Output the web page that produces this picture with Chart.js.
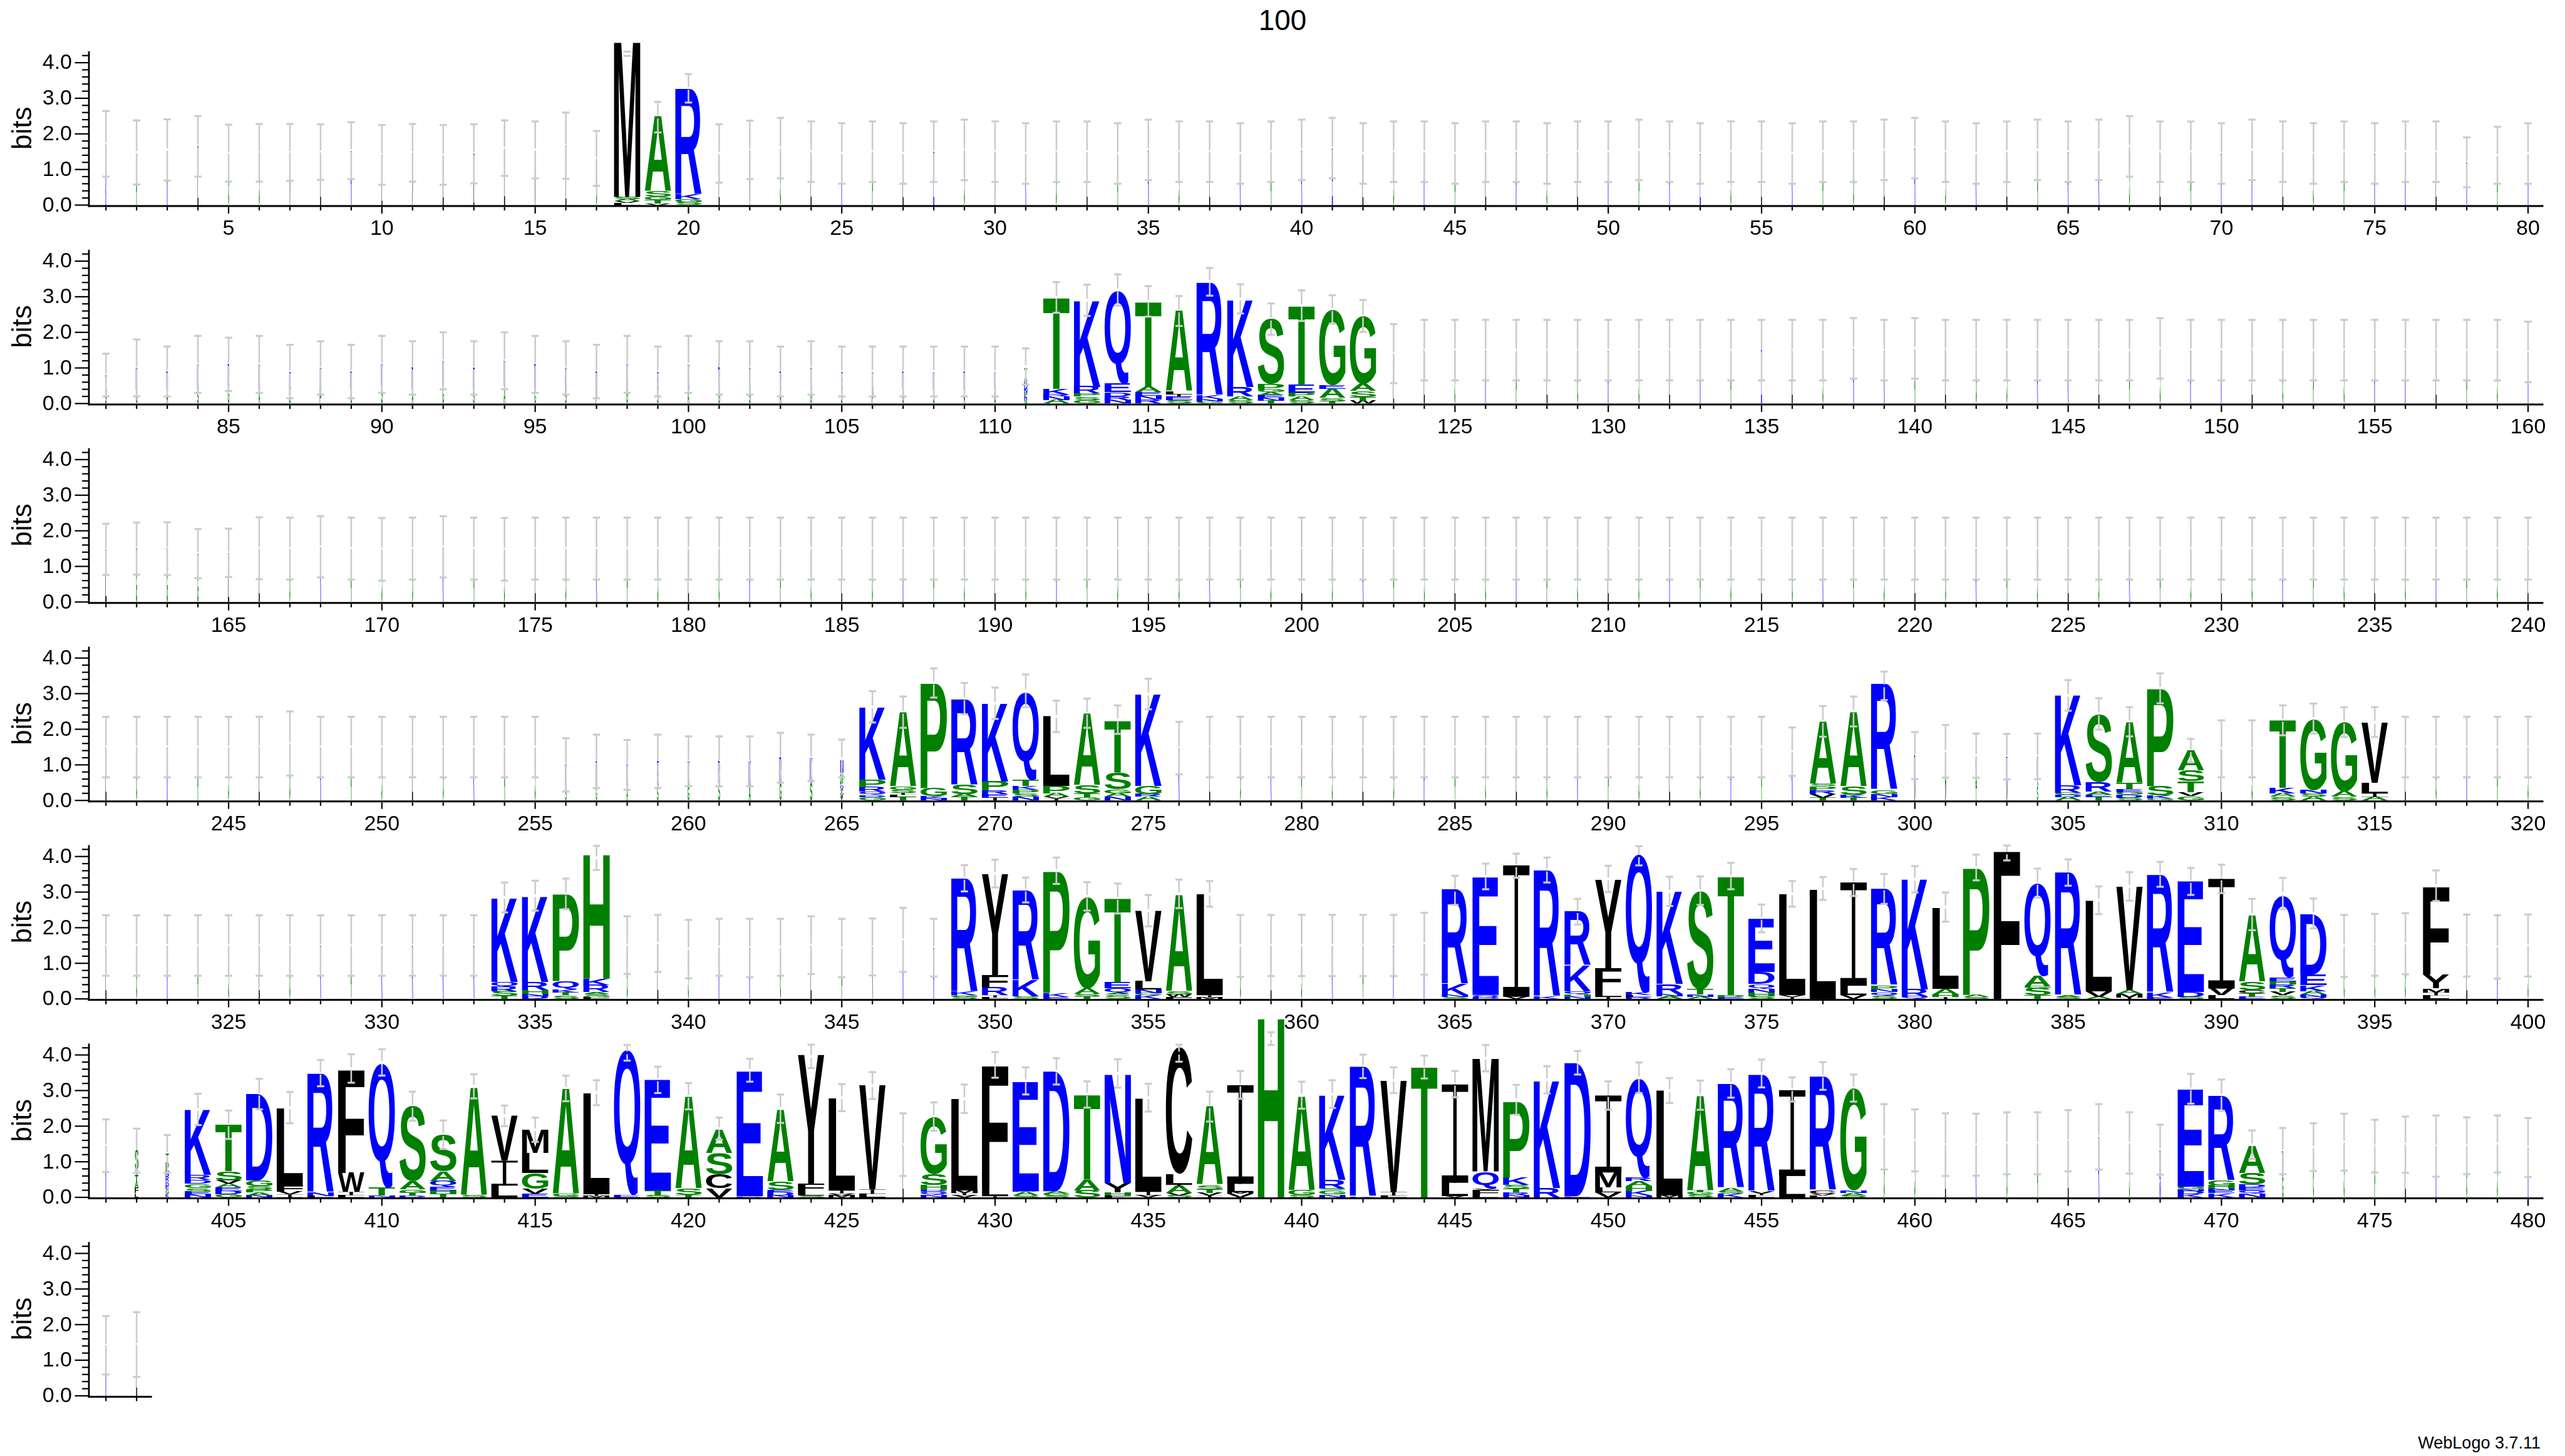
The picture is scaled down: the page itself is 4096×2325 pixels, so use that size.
<!DOCTYPE html>
<html><head><meta charset="utf-8">
<script src="https://cdn.jsdelivr.net/npm/chart.js@4.4.1/dist/chart.umd.min.js"></script>
<style>
html,body{margin:0;padding:0;background:#fff;}
#wrap{position:relative;width:4096px;height:2325px;overflow:hidden;background:#fff;}
#wrap canvas{position:absolute;left:0;}
.txt{position:absolute;font-family:"Liberation Sans",Arial,Helvetica,sans-serif;color:#000;white-space:nowrap;}
</style></head>
<body><div id="wrap">
<div class="txt" id="title" style="left:0;width:4096px;text-align:center;top:9px;font-size:46px;line-height:46px;">100</div>
<div class="txt" id="footer" style="right:39px;top:2291px;font-size:27px;line-height:27px;">WebLogo 3.7.11</div>
</div>
<script>
// ---------------- DATA ----------------
const yTickValues = [0, 1, 2, 3, 4];
const yTickLabels = ["0.0", "1.0", "2.0", "3.0", "4.0"];
const yAxisTitle = "bits";
const rowFirstPositions = [1, 81, 161, 241, 321, 401, 481];
const blueLetters = "RKDENQ";
const greenLetters = "SGHTAP";

// stacks: per position, letters bottom->top with height in bits
const row1Stacks = [
[["K",0.8],["L",0.92]],[["A",1.48]],[["K",1.55]],[["L",1.3],["R",0.35]],[["G",1.46]],
[["S",1.47]],[["V",0.9],["A",0.58]],[["L",1.49]],[["R",1.53]],[["L",0.8],["K",0.61]],
[["V",0.8],["S",0.67]],[["L",1.41]],[["I",0.9],["T",0.54]],[["L",1.6]],[["V",0.8],["A",0.75]],
[["L",1.2],["K",0.47]],[["G",1.31]],
[["L",0.06],["V",0.05],["A",0.06],["S",0.06],["M",4.37]],
[["V",0.04],["T",0.1],["G",0.1],["S",0.15],["A",2.1]],
[["S",0.08],["G",0.08],["K",0.13],["R",2.98]],
[["L",1.45]],[["V",1.55]],[["S",1.6]],[["L",1.5]],[["K",1.45]],[["A",1.5]],[["L",1.45]],[["E",1.5]],[["S",1.55]],[["V",1.5]],
[["K",1.45]],[["G",1.5]],[["L",1.5]],[["A",1.45]],[["R",1.55]],[["S",1.5]],[["L",1.5]],[["K",1.45]],[["A",1.5]],[["R",1.55]],
[["E",1.6]],[["L",1.45]],[["S",1.5]],[["K",1.5]],[["A",1.45]],[["L",1.5]],[["R",1.5]],[["S",1.45]],[["L",1.5]],[["K",1.5]],
[["A",1.55]],[["R",1.5]],[["E",1.45]],[["S",1.5]],[["L",1.5]],[["K",1.45]],[["A",1.5]],[["G",1.5]],[["L",1.55]],[["R",1.6]],
[["S",1.5]],[["K",1.45]],[["L",1.5]],[["A",1.55]],[["R",1.5]],[["K",1.55]],[["S",1.65]],[["L",1.5]],[["A",1.5]],[["R",1.45]],
[["K",1.55]],[["L",1.5]],[["S",1.45]],[["A",1.5]],[["R",1.45]],[["K",1.5]],[["L",1.5]],[["R",1.2]],[["A",1.4]],[["K",1.45]]
];
const row1Widths = [
.035,.035,.035,.035,.035,.035,.035,.035,.035,.035,
.035,.035,.035,.035,.035,.035,.035,1,1,1,
.035,.035,.035,.035,.035,.035,.035,.035,.035,.035,
.035,.035,.035,.035,.035,.035,.035,.035,.035,.035,
.035,.035,.035,.035,.035,.035,.035,.035,.035,.035,
.035,.035,.035,.035,.035,.035,.035,.035,.035,.035,
.035,.035,.035,.035,.035,.035,.035,.035,.035,.035,
.035,.035,.035,.035,.035,.035,.035,.035,.035,.035
];
// error bars: [centre, half-width] in bits
const row1Err = [
[1.72,.92],[1.48,.9],[1.55,.86],[1.65,.85],[1.46,.8],[1.47,.81],[1.48,.8],[1.49,.78],[1.53,.8],[1.41,.84],
[1.47,.81],[1.41,.84],[1.44,.83],[1.6,.78],[1.55,.8],[1.67,.93],[1.31,.77],[4.25,.06],[2.47,.43],[3.28,.4],
[1.45,.82],[1.55,.82],[1.6,.85],[1.5,.85],[1.45,.85],[1.5,.85],[1.45,.85],[1.5,.85],[1.55,.85],[1.5,.85],
[1.45,.85],[1.5,.85],[1.5,.85],[1.45,.85],[1.55,.85],[1.5,.85],[1.5,.85],[1.45,.85],[1.5,.85],[1.55,.85],
[1.6,.85],[1.45,.85],[1.5,.85],[1.5,.85],[1.45,.85],[1.5,.85],[1.5,.85],[1.45,.85],[1.5,.85],[1.5,.85],
[1.55,.85],[1.5,.85],[1.45,.85],[1.5,.85],[1.5,.85],[1.45,.85],[1.5,.85],[1.5,.85],[1.55,.85],[1.6,.85],
[1.5,.85],[1.45,.85],[1.5,.85],[1.55,.85],[1.5,.85],[1.55,.85],[1.65,.85],[1.5,.85],[1.5,.85],[1.45,.85],
[1.55,.85],[1.5,.85],[1.45,.85],[1.5,.85],[1.45,.85],[1.5,.85],[1.5,.85],[1.2,.7],[1.4,.8],[1.45,.85]
];

const row2Stacks = [
[["S",0.3],["K",0.5]],[["G",0.4],["K",0.6]],[["A",0.4],["R",0.5]],[["S",0.4],["K",0.7]],[["G",0.5],["R",0.6]],
[["A",0.4],["K",0.7]],[["S",0.4],["E",0.5]],[["P",0.4],["K",0.6]],[["G",0.4],["R",0.5]],[["S",0.5],["K",0.6]],
[["A",0.4],["R",0.6]],[["G",0.5],["K",0.7]],[["S",0.4],["E",0.6]],[["A",0.5],["K",0.7]],[["G",0.4],["R",0.7]],
[["S",0.4],["K",0.6]],[["P",0.4],["R",0.5]],[["G",0.5],["K",0.6]],[["S",0.4],["E",0.5]],[["A",0.4],["K",0.7]],
[["G",0.4],["R",0.6]],[["S",0.4],["K",0.6]],[["A",0.4],["R",0.5]],[["G",0.4],["K",0.6]],[["S",0.4],["E",0.5]],
[["P",0.4],["K",0.5]],[["G",0.4],["R",0.5]],[["S",0.4],["K",0.5]],[["A",0.4],["R",0.5]],[["G",0.4],["K",0.5]],
[["S",0.1],["R",0.1],["P",0.1],["N",0.1],["D",0.2],["A",0.15],["T",0.25]],
[["A",0.1],["N",0.1],["R",0.06],["K",0.15],["T",2.56]],
[["G",0.1],["S",0.1],["P",0.08],["R",0.19],["K",2.43]],
[["N",0.1],["R",0.1],["D",0.12],["E",0.25],["Q",2.6]],
[["R",0.12],["N",0.1],["E",0.1],["A",0.15],["T",2.39]],
[["S",0.1],["E",0.1],["I",0.06],["L",0.08],["A",2.26]],
[["G",0.06],["N",0.07],["K",0.1],["R",3.17]],
[["S",0.1],["A",0.1],["R",0.27],["K",2.46]],
[["T",0.08],["N",0.08],["E",0.08],["A",0.08],["G",0.08],["P",0.15],["S",1.82]],
[["S",0.1],["A",0.1],["P",0.1],["E",0.22],["T",2.22]],
[["T",0.06],["S",0.1],["A",0.26],["E",0.1],["G",2.11]],
[["W",0.08],["T",0.1],["S",0.17],["A",0.2],["G",1.89]],
[["L",0.8],["G",0.6]],
[["L",1.5]],[["S",1.5]],[["K",1.5]],[["A",1.5]],[["L",1.5]],[["G",1.5]],[["R",1.5]],
[["S",1.5]],[["L",1.5]],[["K",1.5]],[["A",1.5]],[["E",1.5]],[["L",1.5]],[["S",1.5]],[["R",1.55]],[["K",1.5]],[["A",1.55]],
[["L",1.5]],[["G",1.5]],[["S",1.5]],[["R",1.5]],[["K",1.5]],[["L",1.5]],[["A",1.5]],[["S",1.55]],[["R",1.5]],[["K",1.5]],
[["L",1.5]],[["G",1.5]],[["A",1.5]],[["S",1.5]],[["R",1.5]],[["K",1.5]],[["L",1.5]],[["A",1.5]],[["S",1.5]],[["K",1.45]]
];
const row2Widths = [
.06,.06,.06,.06,.06,.06,.06,.06,.06,.06,
.06,.06,.06,.06,.06,.06,.06,.06,.06,.06,
.06,.06,.06,.06,.06,.06,.06,.06,.06,.06,
.12,1,1,1,1,1,1,1,1,1,
1,1,.035,.035,.035,.035,.035,.035,.035,.035,
.035,.035,.035,.035,.035,.035,.035,.035,.035,.035,
.035,.035,.035,.035,.035,.035,.035,.035,.035,.035,
.035,.035,.035,.035,.035,.035,.035,.035,.035,.035
];
const row2Err = [
[0.8,.6],[1.0,.8],[0.9,.7],[1.1,.8],[1.1,.75],[1.1,.8],[0.9,.75],[1.0,.75],[0.9,.75],[1.1,.8],
[1.0,.75],[1.2,.8],[1.0,.75],[1.2,.8],[1.1,.8],[1.0,.75],[0.9,.75],[1.1,.8],[0.9,.7],[1.1,.8],
[1.0,.75],[1.0,.75],[0.9,.7],[1.0,.75],[0.9,.7],[0.9,.7],[0.9,.7],[0.9,.7],[0.9,.7],[0.9,.7],
[1.04,.51],[2.98,.43],[2.9,.44],[3.19,.44],[2.87,.43],[2.6,.42],[3.42,.39],[2.94,.41],[2.37,.44],[2.75,.43],
[2.64,.4],[2.46,.45],[1.4,.83],[1.5,.85],[1.5,.85],[1.5,.85],[1.5,.85],[1.5,.85],[1.5,.85],[1.5,.85],
[1.5,.85],[1.5,.85],[1.5,.85],[1.5,.85],[1.5,.85],[1.5,.85],[1.5,.85],[1.55,.85],[1.5,.85],[1.55,.85],
[1.5,.85],[1.5,.85],[1.5,.85],[1.5,.85],[1.5,.85],[1.5,.85],[1.5,.85],[1.55,.85],[1.5,.85],[1.5,.85],
[1.5,.85],[1.5,.85],[1.5,.85],[1.5,.85],[1.5,.85],[1.5,.85],[1.5,.85],[1.5,.85],[1.5,.85],[1.45,.85]
];

const row3Stacks = [
[["L",1.0],["K",0.48]],[["G",0.9],["K",0.6]],[["G",0.9],["L",0.6]],[["G",0.8],["K",0.56]],[["L",0.8],["K",0.58]],
[["L",1.51]],[["G",1.5]],[["K",1.55]],[["A",1.5]],[["S",1.48]],
[["G",1.5]],[["K",1.55]],[["A",1.5]],[["S",1.48]],[["L",1.5]],[["G",1.5]],[["K",1.5]],[["A",1.5]],[["S",1.5]],[["L",1.5]],
[["G",1.5]],[["R",1.5]],[["A",1.5]],[["S",1.5]],[["L",1.5]],[["G",1.5]],[["K",1.5]],[["A",1.5]],[["S",1.5]],[["L",1.5]],
[["G",1.5]],[["R",1.5]],[["A",1.5]],[["S",1.5]],[["L",1.5]],[["G",1.5]],[["K",1.5]],[["A",1.5]],[["S",1.5]],[["L",1.5]],
[["G",1.5]],[["R",1.5]],[["A",1.5]],[["S",1.5]],[["L",1.5]],[["G",1.5]],[["K",1.5]],[["A",1.5]],[["S",1.5]],[["L",1.5]],
[["G",1.5]],[["R",1.5]],[["A",1.5]],[["S",1.5]],[["L",1.5]],[["G",1.5]],[["K",1.5]],[["A",1.5]],[["S",1.5]],[["L",1.5]],
[["G",1.5]],[["R",1.5]],[["A",1.5]],[["S",1.5]],[["L",1.5]],[["G",1.5]],[["K",1.5]],[["A",1.5]],[["S",1.5]],[["L",1.5]],
[["G",1.5]],[["R",1.5]],[["A",1.5]],[["S",1.5]],[["L",1.5]],[["G",1.5]],[["K",1.5]],[["A",1.5]],[["S",1.5]],[["L",1.5]]
];
const row3Widths = [
.045,.045,.045,.045,.045,.035,.035,.035,.035,.035,
.035,.035,.035,.035,.035,.035,.035,.035,.035,.035,
.035,.035,.035,.035,.035,.035,.035,.035,.035,.035,
.035,.035,.035,.035,.035,.035,.035,.035,.035,.035,
.035,.035,.035,.035,.035,.035,.035,.035,.035,.035,
.035,.035,.035,.035,.035,.035,.035,.035,.035,.035,
.035,.035,.035,.035,.035,.035,.035,.035,.035,.035,
.035,.035,.035,.035,.035,.035,.035,.035,.035,.035
];
const row3Err = [
[1.48,.72],[1.5,.73],[1.5,.74],[1.36,.69],[1.38,.68],[1.51,.87],[1.5,.87],[1.55,.86],[1.5,.87],[1.48,.88],
[1.5,.87],[1.55,.86],[1.5,.87],[1.48,.88],[1.5,.87],[1.5,.87],[1.5,.87],[1.5,.87],[1.5,.87],[1.5,.87],
[1.5,.87],[1.5,.87],[1.5,.87],[1.5,.87],[1.5,.87],[1.5,.87],[1.5,.87],[1.5,.87],[1.5,.87],[1.5,.87],
[1.5,.87],[1.5,.87],[1.5,.87],[1.5,.87],[1.5,.87],[1.5,.87],[1.5,.87],[1.5,.87],[1.5,.87],[1.5,.87],
[1.5,.87],[1.5,.87],[1.5,.87],[1.5,.87],[1.5,.87],[1.5,.87],[1.5,.87],[1.5,.87],[1.5,.87],[1.5,.87],
[1.5,.87],[1.5,.87],[1.5,.87],[1.5,.87],[1.5,.87],[1.5,.87],[1.5,.87],[1.5,.87],[1.5,.87],[1.5,.87],
[1.5,.87],[1.5,.87],[1.5,.87],[1.5,.87],[1.5,.87],[1.5,.87],[1.5,.87],[1.5,.87],[1.5,.87],[1.5,.87],
[1.5,.87],[1.5,.87],[1.5,.87],[1.5,.87],[1.5,.87],[1.5,.87],[1.5,.87],[1.5,.87],[1.5,.87],[1.5,.87]
];

const row4Stacks = [
[["L",1.5]],[["G",1.5]],[["K",1.5]],[["A",1.5]],[["S",1.5]],[["L",1.5]],[["G",1.6]],[["R",1.5]],[["A",1.5]],[["S",1.5]],
[["L",1.5]],[["G",1.5]],[["K",1.5]],[["A",1.5]],[["S",1.5]],
[["S",0.4],["K",0.6]],[["G",0.4],["R",0.7]],[["A",0.4],["K",0.6]],[["S",0.4],["E",0.7]],[["G",0.4],["K",0.7]],
[["S",0.5],["R",0.6]],[["A",0.4],["K",0.7]],[["G",0.5],["R",0.7]],[["S",0.5],["K",0.7]],
[["Y",0.1],["V",0.1],["T",0.12],["Q",0.12],["P",0.12],["S",0.1],["G",0.12],["N",0.37]],
[["G",0.1],["D",0.05],["Q",0.1],["R",0.13],["P",0.2],["K",2.05]],
[["T",0.1],["L",0.06],["I",0.05],["S",0.1],["G",0.08],["A",2.09]],
[["N",0.06],["K",0.06],["G",0.22],["P",2.96]],
[["T",0.1],["A",0.08],["S",0.27],["R",2.4]],
[["I",0.08],["E",0.1],["R",0.1],["P",0.26],["K",2.19]],
[["N",0.1],["S",0.1],["P",0.1],["K",0.1],["T",0.18],["Q",2.48]],
[["I",0.05],["V",0.05],["A",0.1],["P",0.21],["L",1.95]],
[["G",0.1],["T",0.1],["S",0.22],["A",2.03]],
[["N",0.1],["A",0.1],["G",0.11],["S",0.47],["T",1.46]],
[["A",0.1],["R",0.08],["G",0.22],["K",2.58]],
[["K",1.47]],
[["L",1.5]],[["G",1.5]],[["K",1.5]],[["A",1.5]],[["S",1.5]],[["L",1.5]],[["G",1.5]],[["R",1.5]],[["A",1.5]],[["S",1.5]],
[["L",1.5]],[["G",1.5]],[["K",1.5]],[["A",1.5]],[["S",1.5]],[["L",1.5]],[["G",1.5]],[["R",1.5]],[["A",1.5]],
[["K",1.37]],
[["T",0.08],["V",0.1],["R",0.1],["P",0.12],["S",0.07],["A",1.74]],
[["T",0.08],["K",0.08],["S",0.24],["A",2.09]],
[["K",0.1],["N",0.08],["G",0.12],["R",2.97]],
[["V",0.4],["R",0.86]],[["V",0.4],["S",0.98]],[["T",0.4],["S",0.86]],[["V",0.4],["R",0.83]],[["S",0.4],["Q",0.84]],
[["A",0.1],["D",0.06],["G",0.06],["R",0.2],["K",2.53]],
[["T",0.1],["E",0.06],["A",0.08],["R",0.27],["S",1.91]],
[["S",0.08],["D",0.08],["G",0.08],["E",0.08],["T",0.17],["A",1.69]],
[["G",0.05],["K",0.09],["S",0.27],["P",2.74]],
[["G",0.12],["V",0.12],["T",0.3],["S",0.3],["A",0.56]],
[["L",1.45]],[["S",1.45]],
[["S",0.1],["A",0.1],["K",0.15],["T",1.9]],
[["A",0.1],["S",0.1],["N",0.1],["G",2.0]],
[["S",0.1],["A",0.15],["G",1.95]],
[["A",0.1],["I",0.1],["L",0.3],["V",1.7]],
[["L",1.5]],[["G",1.5]],[["K",1.5]],[["A",1.5]],[["S",1.5]]
];
const row4Widths = [
.035,.035,.035,.035,.035,.035,.035,.035,.035,.035,
.035,.035,.035,.035,.035,.05,.05,.06,.06,.07,
.07,.08,.08,.09,.12,1,1,1,1,1,
1,1,1,1,1,.04,.035,.035,.035,.035,
.035,.035,.035,.035,.035,.035,.035,.035,.035,.035,
.035,.035,.035,.035,.035,.04,1,1,1,.05,
.05,.05,.05,.05,1,1,1,1,1,.04,
.04,1,1,1,1,.035,.035,.035,.035,.035
];
const row4Err = [
[1.5,.85],[1.5,.85],[1.5,.85],[1.5,.85],[1.5,.85],[1.5,.85],[1.6,.9],[1.5,.85],[1.5,.85],[1.5,.85],
[1.5,.85],[1.5,.85],[1.5,.85],[1.5,.85],[1.5,.85],[1.0,.75],[1.1,.75],[1.0,.7],[1.1,.75],[1.1,.7],
[1.1,.7],[1.1,.7],[1.2,.7],[1.2,.65],[1.18,.53],[2.63,.44],[2.48,.44],[3.3,.41],[2.86,.44],[2.73,.44],
[3.08,.46],[2.36,.44],[2.45,.41],[2.27,.4],[2.99,.43],[1.47,.74],[1.5,.85],[1.5,.85],[1.5,.85],[1.5,.85],
[1.5,.85],[1.5,.85],[1.5,.85],[1.5,.85],[1.5,.85],[1.5,.85],[1.5,.85],[1.5,.85],[1.5,.85],[1.5,.85],
[1.5,.85],[1.5,.85],[1.5,.85],[1.5,.85],[1.5,.85],[1.37,.68],[2.22,.43],[2.5,.42],[3.22,.4],[1.26,.66],
[1.38,.74],[1.26,.62],[1.23,.64],[1.24,.64],[2.95,.43],[2.43,.44],[2.21,.41],[3.15,.42],[1.4,.33],[1.45,.8],
[1.45,.8],[2.25,.42],[2.3,.42],[2.2,.42],[2.2,.42],[1.5,.85],[1.5,.85],[1.5,.85],[1.5,.85],[1.5,.85]
];

const row5Stacks = [
[["L",1.5]],[["G",1.5]],[["K",1.5]],[["A",1.5]],[["S",1.5]],[["L",1.5]],[["G",1.5]],[["R",1.5]],[["A",1.5]],[["K",1.5]],
[["R",1.5]],[["K",1.5]],[["R",1.5]],
[["T",0.08],["S",0.14],["R",0.13],["Q",0.13],["K",2.36]],
[["D",0.08],["N",0.07],["H",0.1],["R",0.23],["K",2.41]],
[["S",0.1],["T",0.08],["K",0.08],["Q",0.24],["P",2.46]],
[["L",0.04],["G",0.05],["S",0.05],["A",0.05],["R",0.2],["K",0.18],["H",3.5]],
[["G",1.51]],[["L",1.56]],[["S",1.4]],[["K",1.45]],[["R",1.43]],[["G",1.45]],[["L",1.51]],[["A",1.43]],[["V",1.46]],[["K",1.66]],[["R",1.44]],
[["S",0.06],["G",0.04],["K",0.1],["R",3.19]],
[["L",0.04],["I",0.06],["R",0.22],["F",0.35],["Y",2.83]],
[["S",0.07],["K",0.46],["R",2.52]],
[["E",0.05],["K",0.12],["P",3.43]],
[["T",0.07],["S",0.07],["A",0.15],["G",2.58]],
[["S",0.12],["A",0.05],["Q",0.13],["E",0.17],["T",2.35]],
[["K",0.1],["G",0.06],["N",0.1],["L",0.24],["V",1.98]],
[["F",0.05],["W",0.08],["S",0.08],["A",2.71]],
[["M",0.04],["I",0.06],["L",2.84]],
[["G",1.49]],[["L",1.5]],[["S",1.5]],[["K",1.5]],[["A",1.5]],[["R",1.5]],[["K",1.55]],
[["S",0.05],["N",0.06],["K",0.31],["R",2.65]],
[["D",0.05],["Q",0.06],["E",3.31]],
[["V",0.06],["I",3.69]],
[["K",0.07],["R",3.55]],
[["N",0.06],["H",0.06],["Q",0.1],["K",0.72],["R",1.51]],
[["I",0.05],["L",0.2],["F",0.6],["Y",2.5]],
[["R",0.05],["L",0.05],["K",0.08],["Q",3.9]],
[["A",0.08],["N",0.06],["R",0.28],["K",2.6]],
[["A",0.06],["N",0.06],["T",0.15],["S",2.75]],
[["E",0.04],["P",0.07],["T",3.34]],
[["S",0.08],["H",0.1],["N",0.12],["Q",0.12],["D",0.33],["E",1.48]],
[["I",0.05],["V",0.05],["L",2.83]],
[["L",3.07]],
[["V",0.1],["L",0.27],["I",2.9]],
[["S",0.09],["Q",0.1],["N",0.08],["P",0.12],["R",2.71]],
[["Q",0.07],["R",0.19],["K",3.11]],
[["I",0.05],["H",0.08],["A",0.16],["L",2.27]],
[["S",0.05],["A",0.06],["P",3.58]],
[["F",4.17]],
[["T",0.1],["S",0.2],["G",0.06],["A",0.3],["Q",2.6]],
[["S",0.05],["A",0.05],["R",3.46]],
[["A",0.06],["V",0.15],["L",2.54]],
[["I",0.04],["M",0.1],["A",0.1],["V",2.91]],
[["E",0.04],["K",0.14],["R",3.31]],
[["S",0.06],["D",0.13],["E",3.1]],
[["L",0.1],["V",0.19],["I",3.08]],
[["E",0.06],["T",0.1],["C",0.08],["S",0.24],["A",1.87]],
[["S",0.1],["V",0.1],["T",0.1],["R",0.1],["H",0.1],["E",0.11],["Q",2.29]],
[["Q",0.06],["N",0.06],["A",0.1],["K",0.16],["E",0.3],["D",1.7]],
[["G",1.49]],[["G",1.52]],[["G",1.55]],
[["L",0.1],["I",0.08],["M",0.12],["Y",0.38],["F",2.47]],
[["L",1.5]],[["K",1.46]],[["S",1.5]]
];
const row5Widths = [
.035,.035,.035,.035,.035,.035,.035,.035,.035,.04,
.04,.04,.04,1,1,1,1,.035,.035,.035,
.035,.035,.035,.035,.035,.035,.035,.035,1,1,
1,1,1,1,1,1,1,.035,.035,.035,
.035,.035,.035,.035,1,1,1,1,1,1,
1,1,1,1,1,1,1,1,1,1,
1,1,1,1,1,1,1,1,1,1,
1,1,1,.035,.035,.035,1,.035,.035,.035
];
const row5Err = [
[1.5,.85],[1.5,.85],[1.5,.85],[1.5,.85],[1.5,.85],[1.5,.85],[1.5,.85],[1.5,.85],[1.5,.85],[1.5,.85],
[1.5,.85],[1.5,.85],[1.5,.85],[2.85,.42],[2.9,.42],[2.95,.43],[3.96,.34],[1.51,.81],[1.56,.8],[1.4,.82],
[1.45,.8],[1.43,.82],[1.45,.8],[1.51,.81],[1.43,.82],[1.46,.8],[1.66,.9],[1.44,.81],[3.39,.37],[3.52,.39],
[3.06,.35],[3.6,.37],[2.88,.4],[2.82,.42],[2.48,.44],[2.95,.4],[2.95,.36],[1.49,.87],[1.5,.86],[1.5,.86],
[1.5,.86],[1.5,.86],[1.5,.86],[1.55,.87],[3.05,.41],[3.44,.36],[3.74,.34],[3.62,.35],[2.45,.36],[3.37,.37],
[4.02,.27],[3.02,.41],[3.04,.4],[3.45,.37],[2.26,.39],[2.95,.36],[3.1,.32],[3.27,.38],[3.09,.42],[3.36,.37],
[2.58,.41],[3.69,.36],[4.1,.21],[3.25,.41],[3.55,.37],[2.77,.39],[3.16,.4],[3.5,.35],[3.3,.38],[3.37,.4],
[2.37,.44],[2.96,.44],[2.4,.42],[1.49,.87],[1.52,.87],[1.55,.86],[3.18,.43],[1.5,.87],[1.46,.89],[1.5,.87]
];

const row6Stacks = [
[["K",1.45]],
[["L",0.12],["F",0.16],["A",0.18],["T",0.16],["I",0.14],["S",0.57]],
[["K",0.1],["G",0.12],["E",0.1],["D",0.12],["R",0.15],["N",0.15],["P",0.25],["T",0.25]],
[["N",0.08],["E",0.08],["S",0.1],["G",0.12],["D",0.12],["R",0.13],["K",1.83]],
[["G",0.08],["D",0.1],["E",0.1],["A",0.1],["V",0.1],["S",0.26],["T",1.31]],
[["N",0.06],["A",0.08],["P",0.08],["S",0.1],["G",0.15],["D",2.43]],
[["I",0.08],["V",0.08],["F",0.18],["L",2.17]],
[["L",0.04],["N",0.1],["R",3.34]],
[["L",0.06],["I",0.09],["W",0.53],["F",2.91]],
[["N",0.05],["T",0.22],["Q",3.51]],
[["D",0.05],["T",0.08],["G",0.1],["A",0.23],["S",2.1]],
[["T",0.1],["H",0.1],["E",0.1],["Q",0.16],["A",0.28],["S",1.03]],
[["S",0.06],["A",3.03]],
[["L",0.33],["I",0.7],["V",1.25]],
[["E",0.1],["V",0.14],["G",0.45],["L",0.56],["M",0.65]],
[["S",0.04],["G",0.06],["A",2.95]],
[["M",0.04],["I",0.05],["L",2.84]],
[["E",0.07],["Q",4.09]],
[["S",0.06],["T",0.13],["E",3.1]],
[["T",0.06],["S",0.18],["A",2.58]],
[["V",0.25],["C",0.4],["S",0.6],["A",0.65]],
[["D",0.03],["E",3.51]],
[["N",0.06],["D",0.1],["E",0.05],["S",0.23],["A",2.03]],
[["S",0.05],["L",0.1],["F",0.23],["Y",3.63]],
[["M",0.06],["V",0.05],["I",0.08],["L",2.6]],
[["L",0.1],["I",0.12],["V",2.92]],
[["L",1.48]],
[["N",0.06],["Q",0.1],["D",0.05],["H",0.14],["S",0.29],["G",1.61]],
[["V",0.06],["I",0.06],["M",0.08],["L",2.56]],
[["I",0.03],["L",0.3],["F",3.38]],
[["S",0.05],["A",0.1],["D",0.03],["E",3.07]],
[["S",0.05],["G",0.06],["A",0.06],["D",3.37]],
[["S",0.2],["A",0.3],["T",2.39]],
[["F",0.05],["H",0.09],["Y",0.27],["N",3.06]],
[["V",0.06],["I",0.1],["L",2.62]],
[["S",0.06],["V",0.06],["A",0.2],["I",0.04],["L",0.3],["C",3.56]],
[["I",0.05],["V",0.08],["T",0.1],["S",0.12],["A",2.19]],
[["V",0.1],["M",0.04],["L",0.24],["I",2.77]],
[["H",5.05]],
[["S",0.06],["G",0.13],["A",2.64]],
[["N",0.06],["A",0.03],["G",0.12],["S",0.04],["R",0.25],["K",2.39]],
[["K",0.02],["R",3.66]],
[["L",0.05],["I",0.1],["V",3.13]],
[["T",3.68]],
[["V",0.04],["L",0.37],["I",2.76]],
[["L",0.05],["F",0.15],["Y",0.05],["Q",0.48],["M",3.19]],
[["N",0.06],["R",0.08],["T",0.1],["S",0.12],["K",0.2],["P",2.13]],
[["R",0.27],["K",3.01]],
[["E",0.03],["D",3.75]],
[["V",0.14],["L",0.14],["M",0.42],["I",2.16]],
[["N",0.05],["K",0.13],["H",0.14],["A",0.14],["R",0.1],["Q",2.79]],
[["M",0.06],["L",2.95]],
[["S",0.08],["G",0.06],["T",0.06],["A",2.65]],
[["K",0.1],["S",0.06],["A",0.1],["R",2.93]],
[["L",0.06],["I",0.05],["V",0.06],["R",3.28]],
[["L",0.6],["I",2.41]],
[["L",0.05],["V",0.05],["C",0.1],["R",3.2]],
[["S",0.06],["A",0.06],["N",0.07],["G",2.88]],
[["G",1.7]],[["S",1.6]],[["L",1.48]],[["K",1.48]],[["G",1.52]],[["A",1.52]],[["L",1.59]],[["R",1.7]],[["S",1.53]],
[["N",0.4],["Q",0.5],["R",0.44]],
[["K",0.08],["D",0.1],["N",0.04],["G",0.08],["E",2.73]],
[["K",0.12],["E",0.08],["N",0.04],["H",0.1],["G",0.13],["R",2.38]],
[["N",0.1],["Q",0.1],["E",0.08],["D",0.08],["S",0.32],["A",0.77]],
[["G",0.6],["D",0.7]],
[["G",1.41]],[["S",1.55]],[["A",1.44]],[["L",1.48]],[["K",1.44]],[["G",1.45]],[["S",1.5]],[["K",1.4]]
];
const row6Widths = [
.035,.14,.12,1,1,1,1,1,1,1,
1,1,1,1,1,1,1,1,1,1,
1,1,1,1,1,1,.035,1,1,1,
1,1,1,1,1,1,1,1,1,1,
1,1,1,1,1,1,1,1,1,1,
1,1,1,1,1,1,1,1,.035,.035,
.035,.035,.035,.035,.035,.035,.035,.05,1,1,
1,.05,.035,.035,.035,.035,.035,.035,.035,.035
];
const row6Err = [
[1.45,.74],[1.31,.62],[1.22,.53],[2.47,.44],[2.04,.4],[2.9,.43],[2.52,.44],[3.49,.37],[3.62,.4],[3.79,.37],
[2.56,.41],[1.76,.4],[3.12,.34],[2.29,.29],[1.9,.34],[3.06,.36],[2.94,.35],[4.06,.22],[3.3,.37],[2.84,.37],
[1.93,.31],[3.57,.32],[2.49,.4],[3.96,.33],[2.8,.38],[3.14,.38],[1.48,.88],[2.27,.4],[2.77,.4],[3.72,.36],
[3.27,.38],[3.54,.37],[2.89,.37],[3.48,.4],[2.8,.39],[4.05,.24],[2.55,.42],[3.16,.39],[4.46,.18],[2.87,.38],
[2.9,.39],[3.68,.33],[3.29,.36],[3.66,.32],[3.18,.37],[3.91,.37],[2.74,.42],[3.3,.38],[3.78,.33],[2.86,.4],
[3.36,.43],[3.0,.35],[2.87,.41],[3.2,.4],[3.48,.39],[3.03,.34],[3.41,.39],[3.07,.38],[1.7,.92],[1.6,.87],
[1.48,.88],[1.48,.87],[1.52,.87],[1.52,.87],[1.59,.86],[1.7,.92],[1.53,.86],[1.34,.7],[3.05,.42],[2.87,.44],
[1.48,.4],[1.3,.65],[1.41,.67],[1.55,.8],[1.44,.74],[1.48,.79],[1.44,.86],[1.45,.8],[1.5,.8],[1.4,.83]
];

const row7Stacks = [[["K",1.42]],[["L",1.44]]];
const row7Widths = [.035,.035];
const row7Err = [[1.42,.82],[1.44,.91]];

// ---------------- RENDERING ----------------
const LETTER_FILL = 0.86;
const Y_MAX = 4.32;
const ROW_ZERO_Y = 327.5, ROW_STEP = 316.9;
const PLOT_LEFT = 144.7, PLOT_RIGHT = 4061.5, AXIS_X = 142;
const CANVAS_H = 380, ABOVE_ZERO = 310;
const SLOTS = 80;
const FONT = '"Liberation Sans", Arial, Helvetica, sans-serif';

function colorOf(l){ return blueLetters.includes(l) ? '#0000ff' : (greenLetters.includes(l) ? '#008000' : '#000000'); }

const glyphCache = {};
function glyphMetrics(ctx, l){
  if (glyphCache[l]) return glyphCache[l];
  ctx.save(); ctx.font = 'bold 200px ' + FONT;
  const m = ctx.measureText(l); ctx.restore();
  const g = {left:m.actualBoundingBoxLeft, right:m.actualBoundingBoxRight, asc:m.actualBoundingBoxAscent, desc:m.actualBoundingBoxDescent};
  glyphCache[l] = g; return g;
}
function drawGlyph(ctx, l, x, y, w, h, color){
  if (!(w > 0) || !(h > 0)) return;
  ctx.save();
  ctx.fillStyle = color;
  if (l === 'I') {
    const bh = h * 0.075, sw = Math.max(w * 0.13, 0.6);
    ctx.fillRect(x, y, w, bh);
    ctx.fillRect(x, y + h - bh, w, bh);
    ctx.fillRect(x + w / 2 - sw / 2, y, sw, h);
    ctx.restore(); return;
  }
  const g = glyphMetrics(ctx, l);
  const gw = g.left + g.right, gh = g.asc + g.desc;
  ctx.translate(x, y);
  ctx.scale(w / gw, h / gh);
  ctx.font = 'bold 200px ' + FONT;
  ctx.textAlign = 'left'; ctx.textBaseline = 'alphabetic';
  ctx.fillText(l, g.left, g.asc);
  ctx.restore();
}

function makeRowPlugin(row){
  return {
    id: 'logoRow',
    afterDatasetsDraw(chart){
      const ctx = chart.ctx, xs = chart.scales.x, ys = chart.scales.y;
      // letters
      chart.data.datasets.forEach((ds, k) => {
        const meta = chart.getDatasetMeta(k);
        meta.data.forEach((el, j) => {
          if (!ds.data[j]) return;
          const letter = row.stacks[j][k][0];
          const p = el.getProps(['x', 'y', 'base', 'width'], true);
          const w = p.width * LETTER_FILL * row.widths[j];
          const top = Math.min(p.y, p.base), h = Math.abs(p.base - p.y);
          drawGlyph(ctx, letter, p.x - w / 2, top, w, h, colorOf(letter));
        });
      });
      // error bars
      ctx.save();
      ctx.fillStyle = '#cccccc';
      row.err.forEach((e, j) => {
        const x = xs.getPixelForValue(j);
        const yHi = ys.getPixelForValue(e[0] + e[1]);
        const yLo = ys.getPixelForValue(Math.max(0, e[0] - e[1]));
        const yMid = ys.getPixelForValue(e[0]);
        const lw = 2.6, gap = 2.2;
        ctx.fillRect(x - lw / 2, yHi, lw, Math.max(0, yMid - gap - yHi));
        ctx.fillRect(x - lw / 2, yMid + gap, lw, Math.max(0, yLo - yMid - gap));
        ctx.fillRect(x - 5.8, yHi - 1.6, 11.6, 3.2);
        ctx.fillRect(x - 5.8, yLo - 1.6, 11.6, 3.2);
      });
      ctx.restore();
    },
    afterDraw(chart){
      const ctx = chart.ctx, xs = chart.scales.x, ys = chart.scales.y;
      const y0 = ys.getPixelForValue(0), yTop = ys.getPixelForValue(Y_MAX);
      const n = row.stacks.length;
      const half = (xs.getPixelForValue(1) - xs.getPixelForValue(0)) / 2;
      ctx.save();
      ctx.fillStyle = '#000';
      // axes
      ctx.fillRect(AXIS_X - 1.4, yTop, 2.8, y0 - yTop + 3);
      ctx.fillRect(AXIS_X - 1.4, y0, xs.getPixelForValue(n - 1) + half - AXIS_X + 1.4, 3);
      // y ticks
      for (let v = 0; v <= 42; v += 2) {
        const val = v / 10, y = ys.getPixelForValue(val);
        const major = yTickValues.includes(val);
        if (major) ctx.fillRect(119.5, y - 1.1, 22, 2.2);
        else ctx.fillRect(131, y - 1.1, 10.5, 2.2);
      }
      ctx.font = '34px ' + FONT;
      ctx.textAlign = 'right'; ctx.textBaseline = 'middle';
      yTickValues.forEach((v, i) => ctx.fillText(yTickLabels[i], 115, ys.getPixelForValue(v) + 1));
      // x ticks and labels
      ctx.textAlign = 'center'; ctx.textBaseline = 'alphabetic';
      for (let j = 0; j < n; j++) {
        const pos = row.first + j, x = xs.getPixelForValue(j);
        const major = pos % 5 === 0;
        ctx.fillRect(x - 1.1, y0 + 3, 2.2, major ? 10.5 : 5.5);
        if (major) ctx.fillText(String(pos), x, y0 + 47.5);
      }
      // y title
      ctx.save();
      ctx.translate(38, (y0 + yTop) / 2);
      ctx.rotate(-Math.PI / 2);
      ctx.font = '44px ' + FONT;
      ctx.textAlign = 'center'; ctx.textBaseline = 'middle';
      ctx.fillText(yAxisTitle, 0, 0);
      ctx.restore();
      ctx.restore();
    }
  };
}

const rows = [
  {stacks: row1Stacks, widths: row1Widths, err: row1Err},
  {stacks: row2Stacks, widths: row2Widths, err: row2Err},
  {stacks: row3Stacks, widths: row3Widths, err: row3Err},
  {stacks: row4Stacks, widths: row4Widths, err: row4Err},
  {stacks: row5Stacks, widths: row5Widths, err: row5Err},
  {stacks: row6Stacks, widths: row6Widths, err: row6Err},
  {stacks: row7Stacks, widths: row7Widths, err: row7Err}
];

const wrap = document.getElementById('wrap');
rows.forEach((row, r) => {
  row.first = rowFirstPositions[r];
  const y0 = ROW_ZERO_Y + ROW_STEP * r;
  const top = Math.round(y0 - ABOVE_ZERO);
  const zeroInCanvas = y0 - top;
  const cv = document.createElement('canvas');
  cv.width = 4096; cv.height = CANVAS_H;
  cv.style.width = '4096px'; cv.style.height = CANVAS_H + 'px'; cv.style.top = top + 'px';
  wrap.appendChild(cv);
  const labels = [];
  for (let j = 0; j < SLOTS; j++) labels.push(String(row.first + j));
  const layers = Math.max(...row.stacks.map(s => s.length));
  const datasets = [];
  for (let k = 0; k < layers; k++) {
    const data = labels.map((_, j) => {
      const s = row.stacks[j];
      if (!s || k >= s.length) return null;
      let b = 0; for (let q = 0; q < k; q++) b += s[q][1];
      return [b, b + s[k][1]];
    });
    datasets.push({data, grouped: false, backgroundColor: 'rgba(0,0,0,0)', borderWidth: 0, barPercentage: 1, categoryPercentage: 1});
  }
  new Chart(cv, {
    type: 'bar',
    data: {labels, datasets},
    options: {
      responsive: false, animation: false, devicePixelRatio: 1,
      layout: {padding: {left: PLOT_LEFT, right: 4096 - PLOT_RIGHT, top: zeroInCanvas - Y_MAX * 56.85, bottom: CANVAS_H - zeroInCanvas}},
      scales: {
        x: {display: false, offset: true},
        y: {display: false, min: 0, max: Y_MAX}
      },
      plugins: {legend: {display: false}, tooltip: {enabled: false}}
    },
    plugins: [makeRowPlugin(row)]
  });
});
</script>
</body></html>
